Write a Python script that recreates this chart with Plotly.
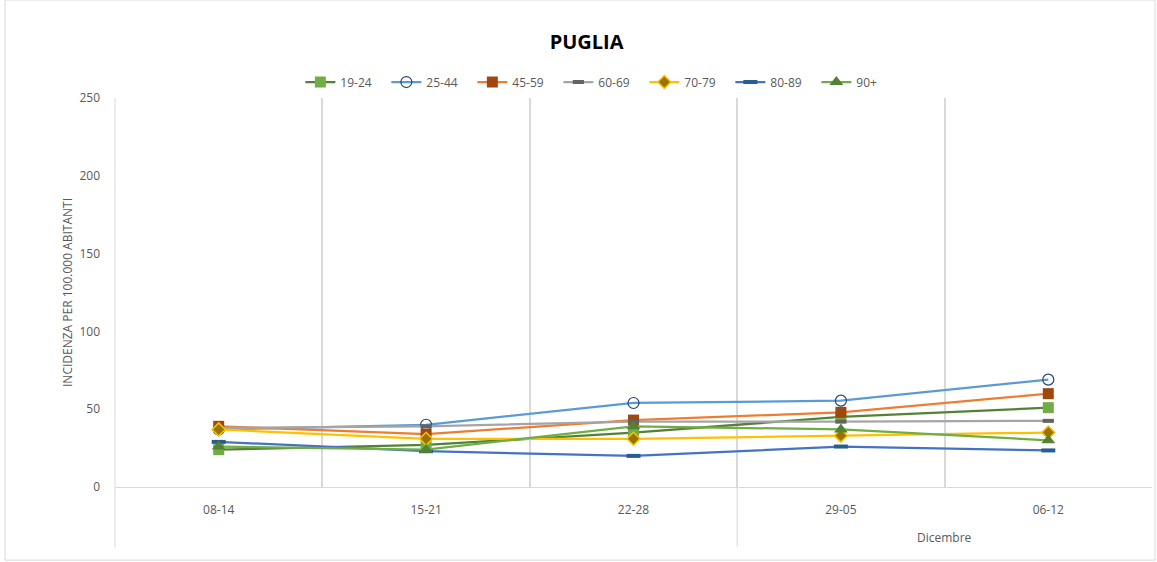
import plotly.graph_objects as go

# weeks on the x axis, month label under the last two weeks
settimane = ["08-14", "15-21", "22-28", "29-05", "06-12"]
mese = "Dicembre"

eta_19_24 = [24, 27, 35, 45, 51]
eta_25_44 = [37, 40, 54, 55.5, 69]
eta_45_59 = [39, 34, 43, 48, 60]
eta_60_69 = [38, 39, 42, 42, 42.5]
eta_70_79 = [37, 31, 31, 33, 35]
eta_80_89 = [29, 23, 20, 26, 23.5]
eta_90_plus = [26, 24, 39, 37, 30]

series = [
    ("19-24", eta_19_24, "#548235", dict(symbol="square", size=11, color="#70AD47")),
    ("25-44", eta_25_44, "#5B9BD5", dict(symbol="circle-open", size=11, color="#264478", line=dict(width=1.2))),
    ("45-59", eta_45_59, "#ED7D31", dict(symbol="square", size=11, color="#9E480E")),
    ("60-69", eta_60_69, "#A5A5A5", dict(symbol="line-ew", size=8, color="#636363", line=dict(width=4, color="#636363"))),
    ("70-79", eta_70_79, "#FFC000", dict(symbol="diamond", size=10, color="#997300", line=dict(width=1.5, color="#FFC000"))),
    ("80-89", eta_80_89, "#4472C4", dict(symbol="line-ew", size=10, color="#255E91", line=dict(width=4, color="#255E91"))),
    ("90+", eta_90_plus, "#70AD47", dict(symbol="triangle-up", size=12, color="#548235")),
]

grey = "#D9D9D9"
txt = "#595959"

fig = go.Figure()
for name, vals, col, mk in series:
    fig.add_trace(go.Scatter(
        x=settimane, y=vals, name=name, mode="lines+markers",
        line=dict(color=col, width=2.25),
        marker=mk
    ))

fig.update_layout(
    width=1157, height=562,
    paper_bgcolor="white", plot_bgcolor="white",
    margin=dict(l=115, r=5, t=98, b=75),
    font=dict(family="Open Sans, Liberation Sans, sans-serif", size=12, color=txt),
    title=dict(text="<b>PUGLIA</b>", x=0.507, xanchor="center", y=0.925, yanchor="middle",
               font=dict(size=20, color="black")),
    legend=dict(orientation="h", x=0.469, xanchor="center", y=1.041, yanchor="middle",
                font=dict(size=12, color=txt), tracegroupgap=0,
                entrywidth=41, entrywidthmode="pixels"),
    showlegend=True,
)

fig.update_yaxes(
    range=[0, 250], dtick=50, showgrid=False, zeroline=False,
    showline=False, ticks="", ticklabelstandoff=14,
    tickfont=dict(size=12, color=txt),
    title=dict(text="INCIDENZA PER 100.000 ABITANTI", font=dict(size=12, color=txt), standoff=4),
)
fig.update_xaxes(
    type="category", range=[-0.5, 4.5], tickson="boundaries",
    showgrid=True, gridcolor=grey, gridwidth=1.5,
    showline=True, linecolor=grey, linewidth=1,
    ticks="", tickfont=dict(size=12, color=txt), ticklabelstandoff=12,
)

# y axis line reaching down through the label area, and month divider
fig.add_shape(type="line", xref="paper", yref="paper", x0=0, x1=0, y0=1, y1=-0.155,
              line=dict(color=grey, width=1))
fig.add_shape(type="line", xref="x", yref="paper", x0=2.5, x1=2.5, y0=0, y1=-0.155,
              line=dict(color=grey, width=1))
fig.add_annotation(text=mese, xref="x", yref="paper", x=3.5, y=-0.13, showarrow=False,
                   xanchor="center", yanchor="middle", font=dict(size=12, color=txt))

# chart border
fig.add_shape(type="rect", xref="paper", yref="paper", x0=-0.106, x1=1.003, y0=-0.188, y1=1.252,
              line=dict(color=grey, width=1))

# page body has a default margin; drop it so the figure sits at the window origin
fig.write_html("out.html", config={"displayModeBar": False},
               post_script="document.body.style.margin='0';")
